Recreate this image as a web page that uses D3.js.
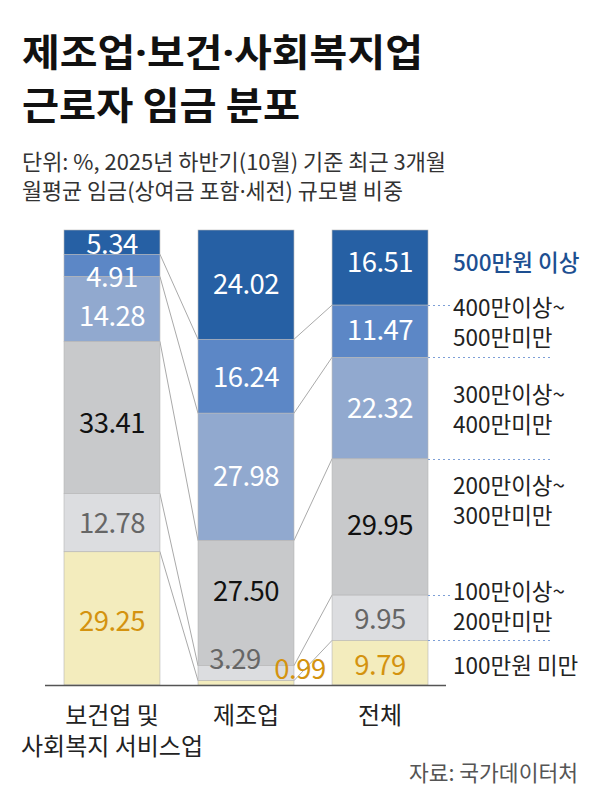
<!doctype html>
<html>
<head>
<meta charset="utf-8" />
<script src="https://d3js.org/d3.v7.min.js"></script>
<style>
  body{ margin:0; background:#fff; }
  text{ font-family:"Noto Sans CJK KR","Noto Sans",sans-serif; }
</style>
</head>
<body>
<script>
// data
var categories = ["보건업 및 사회복지 서비스업", "제조업", "전체"];
var catLines = [["보건업 및", "사회복지 서비스업"], ["제조업"], ["전체"]];
var bands = ["500만원 이상", "400만이상~500만미만", "300만이상~400만미만", "200만이상~300만미만", "100만이상~200만미만", "100만원 미만"];
var bandLines = [["500만원 이상"], ["400만이상~", "500만미만"], ["300만이상~", "400만미만"], ["200만이상~", "300만미만"], ["100만이상~", "200만미만"], ["100만원 미만"]];
var health = [5.34, 4.91, 14.28, 33.41, 12.78, 29.25];
var manufacturing = [24.02, 16.24, 27.98, 27.50, 3.29, 0.99];
var total = [16.51, 11.47, 22.32, 29.95, 9.95, 9.79];

var colors = ["#2660a4", "#5c87c6", "#91a9cf", "#c8c9cb", "#dcdde0", "#f3ecbd"];
var textColors = ["#fff", "#fff", "#fff", "#111", "#666", "#d4930f"];

// label nudges (layout only)
var labelDy = [[2, 12, 7, 5, 0, 3], [-1, 1, -1, -12, -14, -14], [-5, -1, 0, -2, 1, 2]];
var labelDx = [[0, 0, 0, 0, 0, 0], [0, 0, 0, 0, -11, 54], [0, 0, 0, 0, 0, 0]];
var legendDy = [-5, -8, 2, -26, -11, 3];

var svg = d3.select("body").append("svg").attr("width", 600).attr("height", 788);

// text with narrow middle dots
function dotted(parts, x, y, size, weight, fill, len) {
  var t = svg.append("text").attr("x", x).attr("y", y).attr("font-size", size)
    .attr("font-weight", weight).attr("fill", fill)
    .attr("textLength", len).attr("lengthAdjust", "spacingAndGlyphs");
  parts.forEach(function(p, i) {
    if (i > 0) t.append("tspan").attr("font-family", "'Noto Sans', sans-serif").text("·");
    t.append("tspan").text(p);
  });
  return t;
}

// title
dotted(["제조업", "보건", "사회복지업"], 22, 66, 38, 700, "#111", 401);
dotted(["근로자 임금 분포"], 22, 119, 38, 700, "#111", 278);
dotted(["단위: %, 2025년 하반기(10월) 기준 최근 3개월"], 22, 170, 21.5, 400, "#333", 424);
dotted(["월평균 임금(상여금 포함", "세전) 규모별 비중"], 22, 199, 21.5, 400, "#333", 381);

var table = [health, manufacturing, total].map(function(vals, i) {
  var row = {cat: categories[i]};
  bands.forEach(function(b, j) { row[b] = vals[j]; });
  return row;
});

var stack = d3.stack().keys(bands);
var series = stack(table);

var xScale = d3.scaleBand().domain(categories).range([64, 428]).paddingInner(0.284).paddingOuter(0);
var yScale = d3.scaleLinear().domain([0, 100]).range([230, 685]);
var bw = xScale.bandwidth();

// connector lines between bars
var conn = svg.append("g");
for (var k = 0; k < bands.length - 1; k++) {
  for (var c = 0; c < categories.length - 1; c++) {
    conn.append("line")
      .attr("x1", xScale(categories[c]) + bw).attr("y1", yScale(series[k][c][1]))
      .attr("x2", xScale(categories[c + 1])).attr("y2", yScale(series[k][c + 1][1]))
      .attr("stroke", "#aaa").attr("stroke-width", 1);
  }
}

// bars
svg.selectAll("g.bar")
  .data(series)
  .enter()
  .append("g")
  .attr("class", "bar")
  .each(function(s, j) {
    d3.select(this).selectAll("rect")
      .data(s)
      .enter()
      .append("rect")
      .attr("x", function(p) { return xScale(p.data.cat); })
      .attr("y", function(p) { return yScale(p[0]); })
      .attr("width", bw)
      .attr("height", function(p) { return yScale(p[1]) - yScale(p[0]); })
      .attr("fill", colors[j])
      .attr("stroke", "#b5b5b5").attr("stroke-width", 0.6);
  });

// value labels
series.forEach(function(s, j) {
  s.forEach(function(p, i) {
    svg.append("text")
      .attr("x", xScale(p.data.cat) + bw / 2 + labelDx[i][j])
      .attr("y", (yScale(p[0]) + yScale(p[1])) / 2 + labelDy[i][j])
      .attr("dy", "0.36em")
      .attr("text-anchor", "middle")
      .attr("font-family", "'Noto Sans', sans-serif")
      .attr("font-size", 27.5)
      .attr("letter-spacing", -0.5)
      .attr("fill", textColors[j])
      .text(p.data[s.key].toFixed(2));
  });
});

// axis baseline
svg.append("line").attr("x1", 45).attr("x2", 446).attr("y1", 685.5).attr("y2", 685.5)
  .attr("stroke", "#555").attr("stroke-width", 1.5);

// legend dotted guides at bar 3 boundaries
var last = categories.length - 1;
var guideEnd = [452, 553, 553, 452, 553];
for (var g = 0; g < bands.length - 1; g++) {
  var gy = Math.round(yScale(series[g][last][1])) + 0.5;
  svg.append("line")
    .attr("x1", xScale(categories[last]) + bw).attr("x2", guideEnd[g])
    .attr("y1", gy).attr("y2", gy)
    .attr("stroke", "#7d9fd6").attr("stroke-width", 1).attr("stroke-dasharray", "2,3");
}

// legend labels
series.forEach(function(s, j) {
  var p = s[last];
  var cy = (yScale(p[0]) + yScale(p[1])) / 2 + legendDy[j];
  var lines = bandLines[j];
  var t = svg.append("text")
    .attr("x", 453)
    .attr("font-size", 22.5)
    .attr("fill", j === 0 ? "#1d4f91" : "#222")
    .attr("font-weight", j === 0 ? 500 : 400);
  lines.forEach(function(l, li) {
    t.append("tspan").attr("x", 453)
      .attr("y", cy + (li - (lines.length - 1) / 2) * 30)
      .attr("dy", "0.36em")
      .text(l);
  });
});

// category labels
catLines.forEach(function(lines, i) {
  var t = svg.append("text").attr("text-anchor", "middle").attr("font-size", 24).attr("fill", "#222");
  lines.forEach(function(l, li) {
    t.append("tspan").attr("x", xScale(categories[i]) + bw / 2).attr("y", 724 + li * 31).text(l);
  });
});

// source
svg.append("text").attr("x", 578).attr("y", 781).attr("text-anchor", "end")
  .attr("font-size", 21.5).attr("fill", "#555").text("자료: 국가데이터처");
</script>
</body>
</html>
